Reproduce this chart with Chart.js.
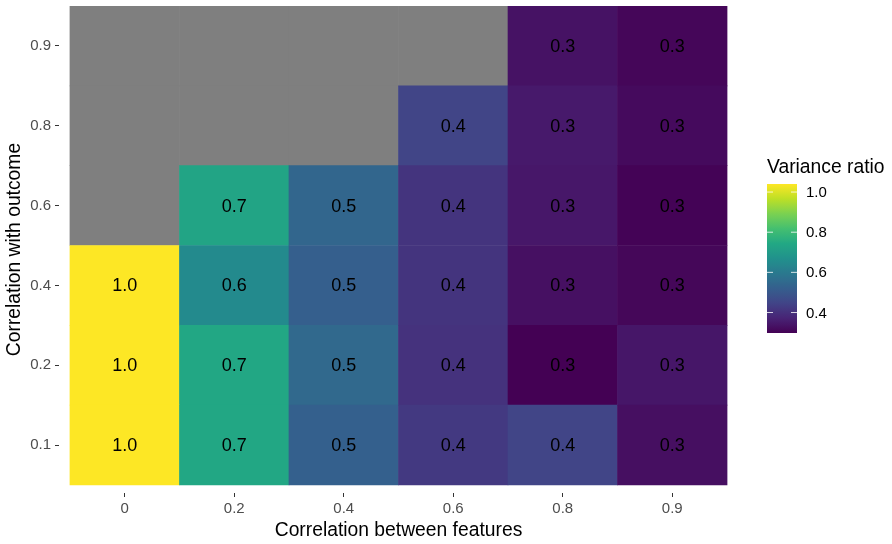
<!DOCTYPE html>
<html>
<head>
<meta charset="utf-8">
<script src="https://cdn.jsdelivr.net/npm/chart.js@4"></script>
<style>
html,body{margin:0;padding:0;background:#ffffff;}
canvas{display:block;}
</style>
</head>
<body>
<canvas id="c" width="892" height="544"></canvas>
<script>
// ---- data ----
const xLabels = ['0', '0.2', '0.4', '0.6', '0.8', '0.9'];
const yLabels = ['0.1', '0.2', '0.4', '0.6', '0.8', '0.9'];
// variance ratio per row (correlation with outcome), across correlation between features
const row01 = [1.04, 0.74, 0.525, 0.42, 0.449, 0.328];
const row02 = [1.04, 0.74, 0.549, 0.405, 0.298, 0.342];
const row04 = [1.04, 0.649, 0.52, 0.41, 0.33, 0.31];
const row06 = [null, 0.73, 0.54, 0.41, 0.345, 0.303];
const row08 = [null, null, null, 0.449, 0.349, 0.318];
const row09 = [null, null, null, null, 0.335, 0.309];
const legendTicks = [0.4, 0.6, 0.8, 1.0];

const rows = [row01, row02, row04, row06, row08, row09];
const NA_COLOR = '#7f7f7f';
const FONT = '"Liberation Sans", Arial, sans-serif';

const allVals = rows.flat().filter(v => v !== null);
const vMin = Math.min(...allVals);
const vMax = Math.max(...allVals);

// viridis colour map
const VIR = ['#440154','#482475','#414487','#355f8d','#2a788e','#21918c','#22a884','#44bf70','#7ad151','#bddf26','#fde725'];
function hex2rgb(h){return [parseInt(h.slice(1,3),16),parseInt(h.slice(3,5),16),parseInt(h.slice(5,7),16)];}
const VIR_RGB = VIR.map(hex2rgb);
function viridis(t){
  t = Math.max(0, Math.min(1, t));
  const p = t * (VIR_RGB.length - 1);
  const i = Math.min(Math.floor(p), VIR_RGB.length - 2);
  const f = p - i;
  const a = VIR_RGB[i], b = VIR_RGB[i+1];
  return 'rgb(' + a.map((c,k)=>Math.round(c + (b[k]-c)*f)).join(',') + ')';
}
function colorFor(v){ return v === null ? NA_COLOR : viridis((v - vMin) / (vMax - vMin)); }

const datasets = rows.map((r, j) => ({
  label: yLabels[j],
  data: r.map((v, i) => ({x: i, y: 1})),
  backgroundColor: r.map(colorFor),
  borderWidth: 0,
  barPercentage: 1,
  categoryPercentage: 1,
  stack: 's'
}));

const cellLabels = {
  id: 'cellLabels',
  afterDatasetsDraw(chart){
    const ctx = chart.ctx;
    ctx.save();
    ctx.font = '18px ' + FONT;
    ctx.fillStyle = '#000000';
    ctx.textAlign = 'center';
    ctx.textBaseline = 'middle';
    rows.forEach((r, j) => {
      const meta = chart.getDatasetMeta(j);
      r.forEach((v, i) => {
        if (v === null) return;
        const el = meta.data[i];
        ctx.fillText(v.toFixed(1), el.x, (el.y + el.base) / 2 + 1);
      });
    });
    ctx.restore();
  }
};

const colorBar = {
  id: 'colorBar',
  afterDraw(chart){
    const ctx = chart.ctx;
    const bx = 767, bw = 30, top = 184, bottom = 333;
    ctx.save();
    ctx.font = '19.3px ' + FONT;
    ctx.fillStyle = '#000000';
    ctx.textAlign = 'left';
    ctx.textBaseline = 'middle';
    ctx.fillText('Variance ratio', bx, 168);
    const g = ctx.createLinearGradient(0, bottom, 0, top);
    for (let k = 0; k <= 40; k++) g.addColorStop(k/40, viridis(k/40));
    ctx.fillStyle = g;
    ctx.fillRect(bx, top, bw, bottom - top);
    ctx.font = '15px ' + FONT;
    ctx.fillStyle = '#000000';
    legendTicks.forEach(t => {
      const y = bottom - (t - vMin) / (vMax - vMin) * (bottom - top);
      ctx.strokeStyle = 'rgba(255,255,255,0.8)';
      ctx.lineWidth = 1;
      ctx.beginPath();
      ctx.moveTo(bx, y); ctx.lineTo(bx + 6, y);
      ctx.moveTo(bx + bw - 6, y); ctx.lineTo(bx + bw, y);
      ctx.stroke();
      ctx.fillText(t.toFixed(1), bx + bw + 9, y + 1);
    });
    ctx.restore();
  }
};

new Chart(document.getElementById('c'), {
  type: 'bar',
  data: { datasets },
  plugins: [cellLabels, colorBar],
  options: {
    responsive: false,
    animation: false,
    devicePixelRatio: 1,
    layout: { padding: { top: 6, right: 154, left: 0, bottom: 0 } },
    plugins: { legend: { display: false }, tooltip: { enabled: false } },
    scales: {
      x: {
        type: 'linear',
        stacked: true,
        offset: false,
        min: -0.6, max: 5.6,
        afterBuildTicks(s){ s.ticks = xLabels.map((_, i) => ({value: i})); },
        afterFit(s){ s.height = 51; s.paddingLeft = 0; s.paddingRight = 0; },
        ticks: {
          callback: v => xLabels[Math.round(v)],
          color: '#4d4d4d',
          font: { family: FONT, size: 15 },
          padding: 3,
          maxRotation: 0, autoSkip: false
        },
        grid: { display: true, offset: false, drawOnChartArea: false, drawTicks: true, tickLength: 4, color: '#333333' },
        border: { display: false },
        title: { display: true, text: 'Correlation between features', color: '#000000',
                 font: { family: FONT, size: 19.3 }, padding: { top: 0, bottom: 2 } }
      },
      y: {
        type: 'linear',
        stacked: true,
        min: -0.1, max: 6,
        afterBuildTicks(s){ s.ticks = yLabels.map((_, i) => ({value: i + 0.5})); },
        afterFit(s){ s.width = 59; s.paddingTop = 0; s.paddingBottom = 0; },
        ticks: {
          callback: v => yLabels[Math.round(v - 0.5)],
          color: '#4d4d4d',
          font: { family: FONT, size: 15 },
          padding: 4,
          autoSkip: false
        },
        grid: { display: true, drawOnChartArea: false, drawTicks: true, tickLength: 4, color: '#333333' },
        border: { display: false },
        title: { display: true, text: 'Correlation with outcome', color: '#000000',
                 font: { family: FONT, size: 19.3 }, padding: { top: 3, bottom: 0 } }
      }
    }
  }
});
</script>
</body>
</html>
